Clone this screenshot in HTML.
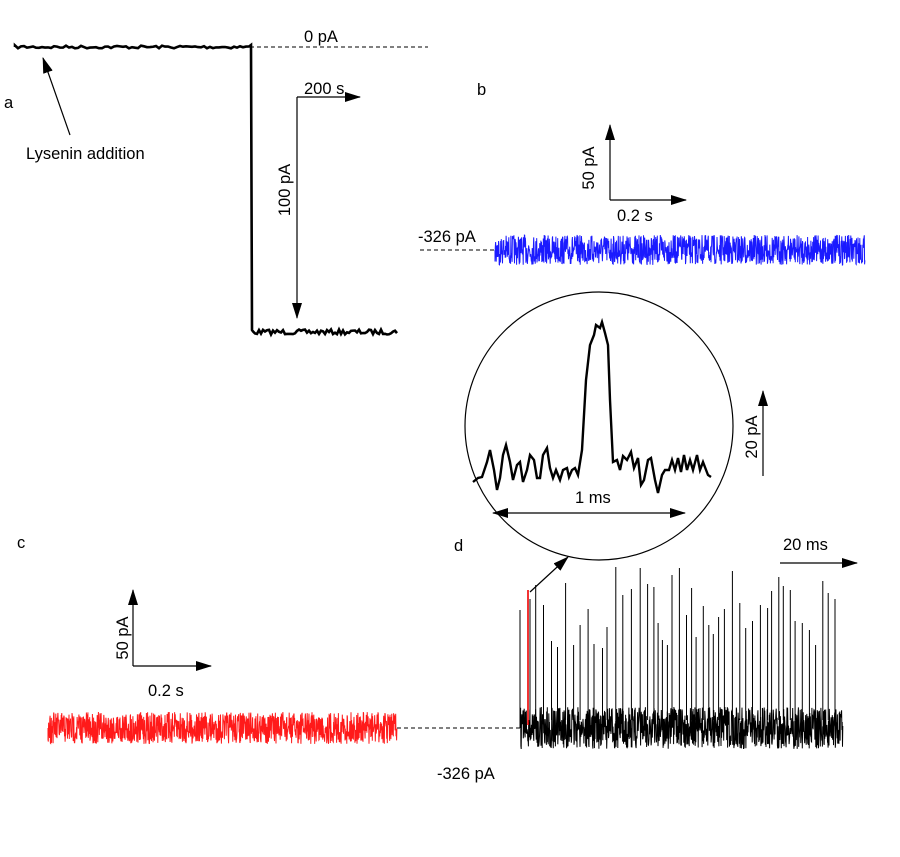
<!DOCTYPE html>
<html><head><meta charset="utf-8"><style>
html,body{margin:0;padding:0;background:#fff}
svg{display:block;font-family:"Liberation Sans",Arial,sans-serif}
</style></head><body>
<svg id="s" width="900" height="857" viewBox="0 0 900 857" xmlns="http://www.w3.org/2000/svg">
<defs>
<marker id="ah2" markerWidth="16" markerHeight="10" refX="15" refY="5" orient="auto-start-reverse" markerUnits="userSpaceOnUse"><path d="M0,0 L16,5 L0,10 z" fill="#000"/></marker>
</defs>
<g font-size="16.5" fill="#000">
<text x="4" y="108">a</text>
<text x="477" y="95">b</text>
<text x="17" y="548">c</text>
<text x="454" y="551">d</text>
<text x="304" y="42">0 pA</text>
<text x="304" y="94">200 s</text>
<text x="26" y="159">Lysenin addition</text>
<text x="418" y="242">-326 pA</text>
<text x="617" y="221">0.2 s</text>
<text x="148" y="696">0.2 s</text>
<text x="437" y="779">-326 pA</text>
<text x="783" y="550">20 ms</text>
<text x="575" y="503">1 ms</text>
<text transform="translate(290,190) rotate(-90)" text-anchor="middle">100 pA</text>
<text transform="translate(594,168) rotate(-90)" text-anchor="middle">50 pA</text>
<text transform="translate(128,638) rotate(-90)" text-anchor="middle">50 pA</text>
<text transform="translate(757,437) rotate(-90)" text-anchor="middle">20 pA</text>
</g>
<g stroke="#000" fill="none" stroke-width="1.2">
<line x1="250" y1="47" x2="428" y2="47" stroke-dasharray="4,3" stroke-width="1"/>
<line x1="420" y1="250" x2="495" y2="250" stroke-dasharray="4,3" stroke-width="1"/>
<line x1="397" y1="728" x2="520" y2="728" stroke-dasharray="4,3" stroke-width="1"/>
<line x1="297" y1="97" x2="360" y2="97" marker-end="url(#ah2)"/>
<line x1="297" y1="97" x2="297" y2="318" marker-end="url(#ah2)"/>
<line x1="70" y1="135" x2="43" y2="58" marker-end="url(#ah2)"/>
<line x1="610" y1="200" x2="610" y2="125" marker-end="url(#ah2)"/>
<line x1="610" y1="200" x2="686" y2="200" marker-end="url(#ah2)"/>
<line x1="133" y1="666" x2="133" y2="590" marker-end="url(#ah2)"/>
<line x1="133" y1="666" x2="211" y2="666" marker-end="url(#ah2)"/>
<line x1="763" y1="476" x2="763" y2="391" marker-end="url(#ah2)"/>
<line x1="493" y1="513" x2="685" y2="513" marker-start="url(#ah2)" marker-end="url(#ah2)"/>
<line x1="780" y1="563" x2="857" y2="563" marker-end="url(#ah2)"/>
<line x1="530" y1="592" x2="568" y2="557" marker-end="url(#ah2)"/>
<circle cx="599" cy="426" r="134"/>
</g>
<g id="tr"></g>
</svg>
<script>
var seed=7;function r(){seed=(seed*16807)%2147483647;return seed/2147483647;}
var g=document.getElementById('tr');
function P(d,c,w){var p=document.createElementNS('http://www.w3.org/2000/svg','path');p.setAttribute('d',d);p.setAttribute('stroke',c);p.setAttribute('stroke-width',w);p.setAttribute('fill','none');g.appendChild(p);}
var d='M15,47';for(var x=15;x<250;x+=3)d+=' L'+x+','+(47+(r()-0.5)*3);
d+=' L251,45 L252,330';for(x=253;x<398;x+=2)d+=' L'+x+','+(332+(r()-0.5)*5);
P(d,'#000',2.6);
function noise(x0,x1,yc,a,c,step){var d='M'+x0+','+yc;for(var x=x0;x<x1;x+=step)d+=' L'+x.toFixed(1)+','+(yc+(r()-0.5)*a).toFixed(1);P(d,c,1);}
noise(495,865,250,30,'#1a1aff',0.3);
noise(48,397,728,32,'#ff1a1a',0.3);
noise(520,843,728,42,'#000',0.3);
var sp='';for(x=530;x<840;x+=4+r()*5){var t=565+r()*85;sp+='M'+x.toFixed(1)+',720 L'+x.toFixed(1)+','+t.toFixed(0)+' ';}
P(sp,'#000',1);
P('M520,720 L520,610','#000',1);
P('M528,725 L528,590','#e00',1.6);
var pts=[[473,482],[478,478],[482,477],[487,462],[490,450],[494,470],[497,490],[500,478],[503,455],[506,445],[510,462],[513,480],[517,465],[520,462],[523,482],[527,470],[530,455],[534,460],[537,478],[540,478],[543,455],[547,448],[550,468],[553,478],[556,470],[560,480],[563,470],[567,468],[569,477],[572,470],[575,468],[578,475],[582,450],[586,380],[590,345],[594,335],[596,325],[600,328],[602,322],[605,333],[608,345],[610,400],[613,462],[617,460],[620,470],[623,456],[627,460],[631,452],[634,468],[638,458],[641,485],[644,480],[648,460],[651,458],[655,480],[658,493],[662,475],[665,470],[669,470],[672,460],[675,470],[678,458],[681,472],[684,455],[687,470],[690,460],[693,470],[697,455],[700,470],[703,462],[708,475],[711,477]];
d='M'+pts.map(function(p){return p.join(',')}).join(' L');P(d,'#000',2.4);
</script>
</body></html>
